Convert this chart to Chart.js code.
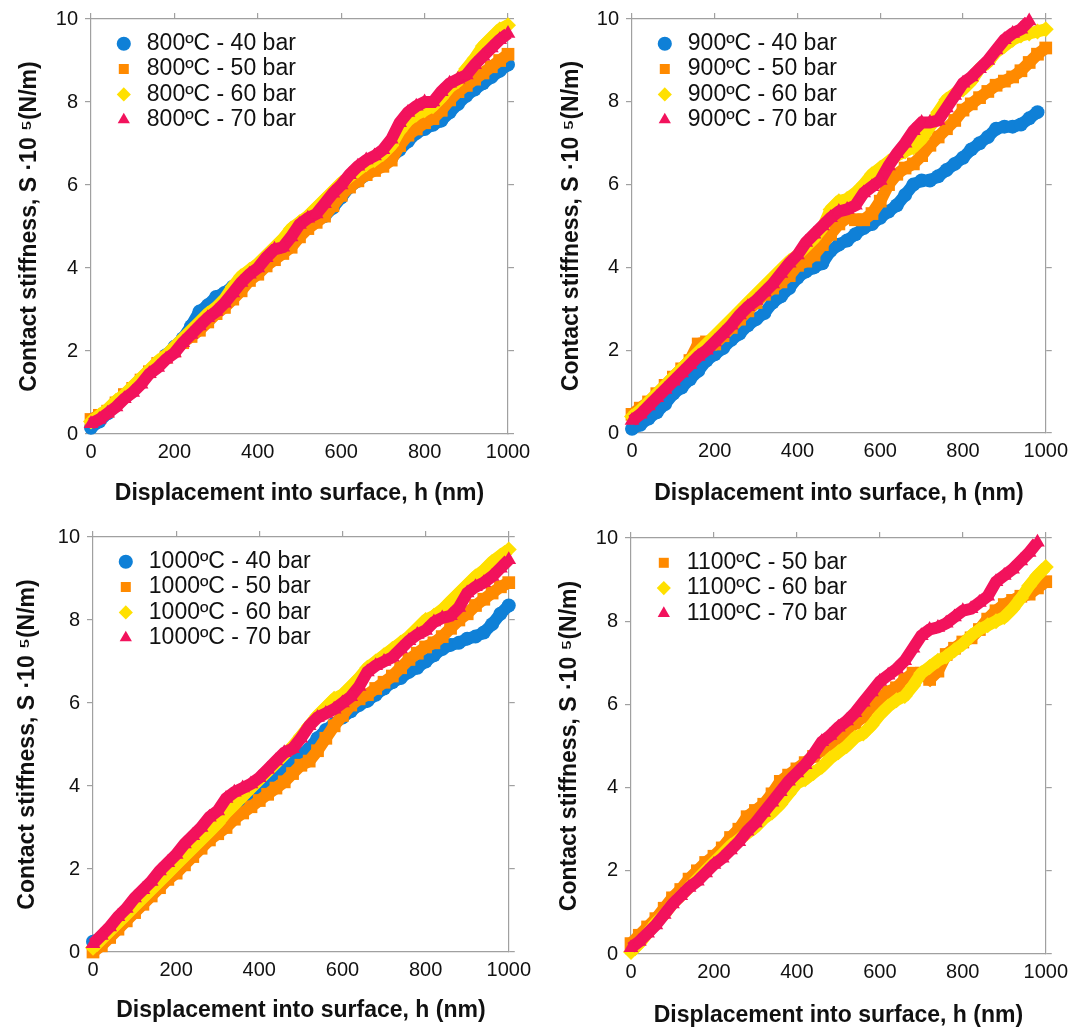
<!DOCTYPE html>
<html>
<head>
<meta charset="utf-8">
<script src="https://cdn.jsdelivr.net/npm/chart.js@4.4.0/dist/chart.umd.min.js"></script>
<style>
body { margin: 0; background: #fff; }
#wrap { position: relative; width: 1074px; height: 1031px; }
canvas { position: absolute; }
</style>
</head>
<body>
<div id="wrap">
  <canvas id="c800" width="537" height="515" style="left:0;top:0"></canvas>
  <canvas id="c900" width="537" height="515" style="left:537px;top:0"></canvas>
  <canvas id="c1000" width="537" height="516" style="left:0;top:515px"></canvas>
  <canvas id="c1100" width="537" height="516" style="left:537px;top:515px"></canvas>
</div>
<script>
// displacement into surface (nm), one reading every 20 nm
const depth = [0,20,40,60,80,100,120,140,160,180,200,220,240,260,280,300,320,340,360,380,
  400,420,440,460,480,500,520,540,560,580,600,620,640,660,680,700,720,740,760,780,
  800,820,840,860,880,900,920,940,960,980,1000];

const xTicks = [0, 200, 400, 600, 800, 1000];
const yTicks = [0, 2, 4, 6, 8, 10];

// contact stiffness S (x10^5 N/m)
const s800_40 = [0.15,0.3,0.5,0.7,0.9,1.1,1.3,1.5,1.7,1.9,2.1,2.3,2.6,2.95,3.1,3.3,3.4,3.55,3.7,3.9,
  4.05,4.25,4.45,4.65,4.8,4.95,5.05,5.15,5.25,5.45,5.7,5.95,6.1,6.25,6.4,6.5,6.65,6.85,7.05,7.25,
  7.35,7.45,7.55,7.75,7.95,8.15,8.3,8.45,8.6,8.75,8.9];
const s800_50 = [0.35,0.45,0.55,0.75,0.95,1.1,1.3,1.5,1.7,1.85,2.0,2.2,2.35,2.5,2.7,2.9,3.05,3.25,3.45,3.7,
  3.85,4.05,4.2,4.35,4.5,4.75,4.95,5.1,5.25,5.5,5.75,5.95,6.1,6.25,6.35,6.45,6.6,6.95,7.2,7.35,
  7.5,7.6,7.8,8.05,8.25,8.4,8.55,8.7,8.85,9.0,9.15];
const s800_60 = [0.3,0.45,0.6,0.8,0.95,1.15,1.35,1.55,1.75,1.9,2.1,2.3,2.5,2.7,2.9,3.05,3.25,3.55,3.8,3.95,
  4.1,4.3,4.5,4.7,4.95,5.1,5.25,5.45,5.65,5.85,6.05,6.2,6.35,6.5,6.6,6.75,6.95,7.3,7.55,7.7,
  7.8,7.9,8.1,8.35,8.5,8.8,9.05,9.35,9.55,9.75,9.85];
const s800_70 = [0.25,0.35,0.5,0.65,0.85,1.0,1.2,1.45,1.6,1.8,1.95,2.2,2.4,2.6,2.8,2.95,3.15,3.4,3.65,3.85,
  4.0,4.25,4.45,4.5,4.75,5.05,5.2,5.3,5.55,5.8,6.0,6.25,6.45,6.6,6.7,6.85,7.1,7.5,7.75,7.9,
  8.0,8.0,8.25,8.45,8.55,8.65,8.9,9.1,9.3,9.5,9.65];

const s900_40 = [0.1,0.2,0.35,0.5,0.7,0.95,1.1,1.3,1.5,1.75,1.9,2.05,2.25,2.4,2.6,2.75,2.9,3.15,3.3,3.5,
  3.75,3.9,4.0,4.1,4.4,4.55,4.65,4.8,4.95,5.05,5.2,5.35,5.5,5.75,6.0,6.1,6.1,6.2,6.35,6.5,
  6.65,6.85,7.0,7.15,7.35,7.4,7.4,7.45,7.6,7.75];
const s900_50 = [0.45,0.6,0.75,0.95,1.15,1.35,1.55,1.75,2.15,2.2,2.15,2.35,2.55,2.75,2.95,3.15,3.35,3.5,3.65,3.8,
  4.05,4.15,4.3,4.55,4.8,5.05,5.2,5.15,5.15,5.3,5.6,6.0,6.25,6.4,6.5,6.7,6.95,7.15,7.35,7.55,
  7.8,7.95,8.1,8.25,8.4,8.5,8.6,8.75,8.95,9.15,9.3];
const s900_60 = [0.4,0.55,0.75,0.95,1.15,1.35,1.55,1.75,1.95,2.15,2.35,2.55,2.75,2.95,3.15,3.35,3.55,3.75,3.95,4.15,
  4.3,4.5,4.7,4.95,5.4,5.6,5.65,5.8,6.0,6.25,6.4,6.55,6.7,6.8,6.9,7.1,7.4,7.75,8.05,8.2,
  8.3,8.5,8.8,8.95,9.2,9.35,9.5,9.6,9.65,9.7,9.75];
const s900_70 = [0.3,0.45,0.65,0.85,1.05,1.25,1.45,1.65,1.85,2.0,2.2,2.4,2.6,2.85,3.05,3.2,3.4,3.6,3.85,4.1,
  4.3,4.6,4.8,5.0,5.2,5.35,5.4,5.5,5.8,5.95,6.1,6.45,6.75,7.0,7.3,7.5,7.5,7.55,7.85,8.15,
  8.45,8.6,8.8,9.0,9.25,9.5,9.65,9.75,9.95];

const s1000_40 = [0.25,0.35,0.55,0.75,0.95,1.15,1.35,1.55,1.75,1.95,2.15,2.35,2.5,2.7,2.9,3.05,3.25,3.45,3.6,3.75,
  3.95,4.15,4.3,4.45,4.6,4.75,4.9,5.15,5.35,5.5,5.65,5.8,5.95,6.05,6.2,6.35,6.5,6.6,6.75,6.85,
  7.0,7.15,7.3,7.4,7.45,7.55,7.6,7.7,7.9,8.15,8.35];
const s1000_50 = [0.0,0.15,0.35,0.55,0.75,0.95,1.15,1.35,1.55,1.75,1.9,2.1,2.3,2.5,2.7,2.85,3.0,3.2,3.35,3.5,
  3.65,3.8,3.95,4.1,4.3,4.5,4.6,4.85,5.15,5.45,5.7,5.95,6.1,6.2,6.35,6.5,6.65,6.85,7.05,7.2,
  7.35,7.45,7.6,7.8,8.0,8.15,8.35,8.5,8.65,8.8,8.9];
const s1000_60 = [0.1,0.3,0.5,0.7,0.9,1.1,1.3,1.5,1.7,1.9,2.1,2.3,2.5,2.7,2.9,3.1,3.35,3.55,3.75,3.95,
  4.15,4.35,4.55,4.75,4.95,5.2,5.45,5.7,5.9,6.1,6.2,6.4,6.6,6.85,7.0,7.15,7.3,7.45,7.6,7.8,
  8.0,8.1,8.25,8.45,8.65,8.85,9.05,9.2,9.4,9.55,9.7];
const s1000_70 = [0.2,0.4,0.6,0.85,1.05,1.3,1.5,1.7,1.95,2.15,2.35,2.6,2.8,3.0,3.25,3.4,3.7,3.85,3.95,4.05,
  4.2,4.4,4.6,4.8,4.9,5.15,5.45,5.65,5.75,5.85,6.0,6.15,6.4,6.75,6.9,7.0,7.1,7.3,7.5,7.65,
  7.75,7.95,8.05,8.1,8.3,8.65,8.8,8.9,9.05,9.25,9.45];

const s1100_50 = [0.25,0.45,0.65,0.85,1.1,1.35,1.55,1.8,2.0,2.2,2.35,2.55,2.8,3.0,3.3,3.45,3.6,3.85,4.15,4.3,
  4.45,4.6,4.75,4.9,5.0,5.15,5.35,5.55,5.7,5.95,6.15,6.3,6.4,6.6,6.75,6.75,6.6,6.8,7.2,7.35,
  7.5,7.6,7.8,8.05,8.25,8.4,8.5,8.6,8.65,8.8,8.95];
const s1100_60 = [0.05,0.25,0.5,0.75,0.95,1.2,1.4,1.6,1.8,2.0,2.2,2.4,2.6,2.75,2.9,3.05,3.25,3.4,3.6,3.85,
  4.1,4.2,4.35,4.5,4.7,4.85,5.0,5.2,5.3,5.5,5.75,5.95,6.1,6.2,6.45,6.75,6.9,7.05,7.15,7.3,
  7.45,7.65,7.8,7.9,8.0,8.1,8.3,8.55,8.85,9.1,9.3];
const s1100_70 = [0.15,0.3,0.5,0.7,0.95,1.2,1.4,1.6,1.75,1.95,2.15,2.3,2.5,2.7,2.95,3.15,3.4,3.65,3.9,4.15,
  4.35,4.55,4.8,5.1,5.25,5.45,5.6,5.8,6.05,6.3,6.55,6.7,6.85,7.05,7.35,7.65,7.8,7.85,7.95,8.1,
  8.25,8.3,8.45,8.6,8.95,9.1,9.25,9.45,9.65,9.9];

// marker look per pressure
const looks = {
  40: { color: '#0f80d7', shape: 'circle', r: 7, order: 3 },
  50: { color: '#ff8a00', shape: 'rect', r: 9, order: 2 },
  60: { color: '#ffe000', shape: 'rectRot', r: 8, order: 1 },
  70: { color: '#f2125c', shape: 'triangle', r: 8.5, order: 0 }
};

// plot box inside each canvas, and title offsets
const panels = [
  { id: 'c800', temp: '800', series: { 40: s800_40, 50: s800_50, 60: s800_60, 70: s800_70 },
    box: { left: 91, right: 508, top: 17, bottom: 434 }, yTitlePad: 16, xTitlePad: 8 },
  { id: 'c900', temp: '900', series: { 40: s900_40, 50: s900_50, 60: s900_60, 70: s900_70 },
    box: { left: 95, right: 512, top: 18, bottom: 433 }, yTitlePad: 21, xTitlePad: 8 },
  { id: 'c1000', temp: '1000', series: { 40: s1000_40, 50: s1000_50, 60: s1000_60, 70: s1000_70 },
    box: { left: 93, right: 509, top: 22, bottom: 437 }, yTitlePad: 14, xTitlePad: 7 },
  { id: 'c1100', temp: '1100', series: { 50: s1100_50, 60: s1100_60, 70: s1100_70 },
    box: { left: 94, right: 512, top: 23, bottom: 439 }, yTitlePad: 19, xTitlePad: 2 }
];

const frame = '#a0a0a0';
const ink = '#111';
Chart.defaults.font.family = '"Liberation Sans", Arial, sans-serif';
Chart.defaults.color = ink;

// put the legend in the upper left corner of the plot
const legendCorner = {
  id: 'legendCorner',
  afterLayout(chart) {
    const lg = chart.legend;
    lg.left = chart.chartArea.left + 19;
    lg.top = chart.chartArea.top + 11;
    lg.right = lg.left + lg.width;
    lg.bottom = lg.top + lg.height;
  }
};

function points(values) {
  return values.map((v, i) => ({ x: depth[i], y: v }));
}

function edgeAxis(pos, min, max, step, size) {
  return {
    type: 'linear', position: pos, min: min, max: max,
    ticks: { display: false, stepSize: step },
    grid: { drawOnChartArea: false, tickLength: 6, color: frame, lineWidth: 1.2 },
    border: { color: frame, width: 1.2 },
    afterFit: s => { if (pos === 'top') s.height = size; else s.width = size; }
  };
}

panels.forEach(p => {
  const canvas = document.getElementById(p.id);
  const W = canvas.width, H = canvas.height;
  const datasets = Object.keys(p.series).map(bar => {
    const lk = looks[bar];
    return {
      label: p.temp + 'ºC - ' + bar + ' bar',
      data: points(p.series[bar]),
      showLine: true,
      borderColor: lk.color,
      borderWidth: 12,
      backgroundColor: lk.color,
      pointStyle: lk.shape,
      pointRadius: lk.r,
      pointBackgroundColor: lk.color,
      pointBorderWidth: 0,
      order: lk.order,
      clip: false
    };
  });

  new Chart(canvas, {
    type: 'scatter',
    data: { datasets },
    options: {
      responsive: false,
      animation: false,
      layout: { padding: 0 },
      plugins: {
        tooltip: { enabled: false },
        legend: {
          position: 'chartArea',
          align: 'start',
          labels: {
            usePointStyle: true,
            boxHeight: 10,
            padding: 2.3,
            color: ink,
            font: { size: 23 },
            sort: (a, b) => a.datasetIndex - b.datasetIndex
          }
        }
      },
      scales: {
        x: {
          type: 'linear', position: 'bottom', min: 0, max: 1000,
          afterBuildTicks: s => { s.ticks = xTicks.map(v => ({ value: v })); },
          ticks: { font: { size: 20 }, color: ink, padding: 6, callback: v => String(v) },
          grid: { display: false, drawTicks: false },
          border: { color: frame, width: 1.2 },
          title: {
            display: true, text: 'Displacement into surface, h (nm)', color: ink,
            font: { size: 23, weight: 'bold' }, padding: { top: 0, bottom: p.xTitlePad }
          },
          afterFit: s => { s.height = H - p.box.bottom; }
        },
        xTop: edgeAxis('top', 0, 1000, 200, p.box.top),
        y: {
          type: 'linear', position: 'left', min: 0, max: 10,
          afterBuildTicks: s => { s.ticks = yTicks.map(v => ({ value: v })); },
          ticks: { font: { size: 20 }, color: ink, padding: 7, callback: v => String(v) },
          grid: { drawOnChartArea: false, tickLength: 6, color: frame, lineWidth: 1.2 },
          border: { color: frame, width: 1.2 },
          title: {
            display: true, text: 'Contact stiffness, S ·10 ⁵(N/m)', color: ink,
            font: { size: 23, weight: 'bold' }, padding: { top: p.yTitlePad, bottom: 0 }
          },
          afterFit: s => { s.width = p.box.left; }
        },
        yRight: edgeAxis('right', 0, 10, 2, W - p.box.right)
      }
    },
    plugins: [legendCorner]
  });
});
</script>
</body>
</html>
